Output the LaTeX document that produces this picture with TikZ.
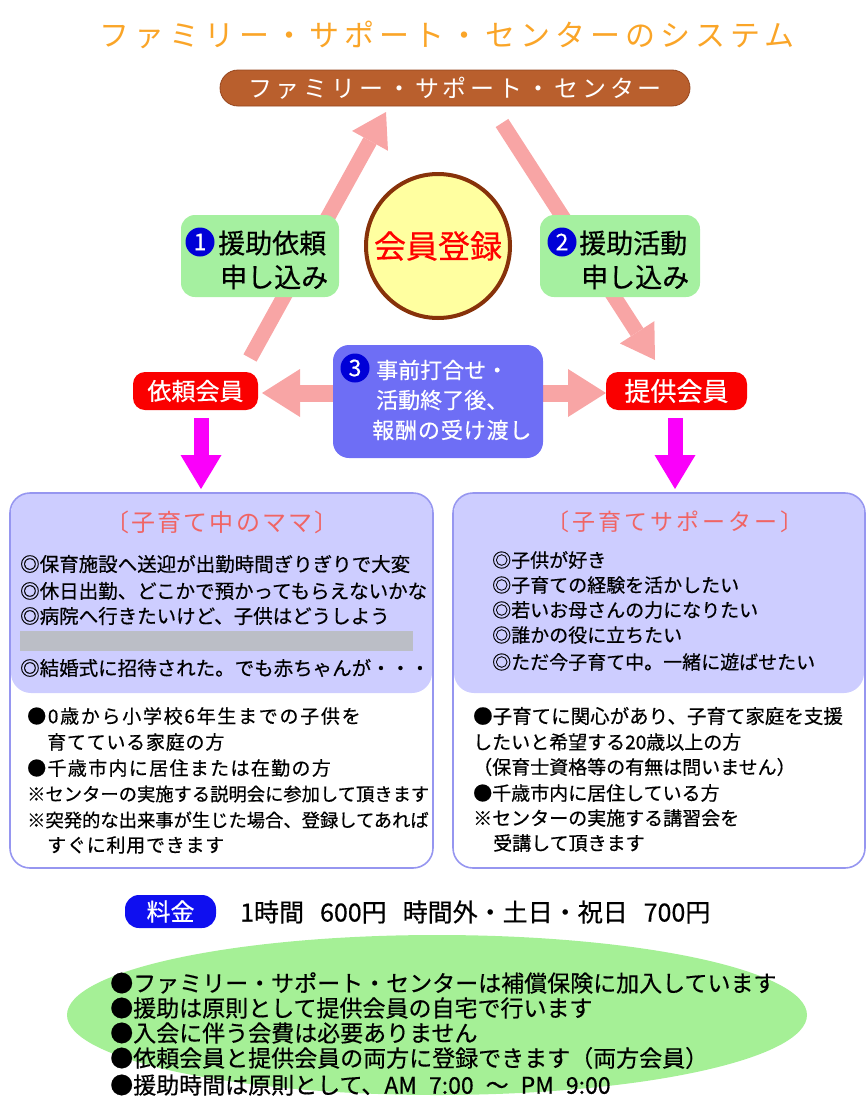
\documentclass[tikz,border=0pt]{standalone}
\usepackage{fontspec}
\setmainfont{Noto Sans CJK JP}[FakeBold=0.5]
\newfontfamily\thinf{Noto Sans CJK JP}
\usetikzlibrary{arrows.meta,shapes.geometric}
\definecolor{titleor}{RGB}{250,165,40}
\definecolor{brownbox}{RGB}{185,95,45}
\definecolor{browndark}{RGB}{150,70,30}
\definecolor{pinkA}{RGB}{248,165,165}
\definecolor{greenbox}{RGB}{165,240,160}
\definecolor{yellowc}{RGB}{255,255,160}
\definecolor{circbr}{RGB}{135,50,10}
\definecolor{numblue}{RGB}{0,0,215}
\definecolor{redbox}{RGB}{250,0,0}
\definecolor{bluebx}{RGB}{110,110,245}
\definecolor{magA}{RGB}{250,0,250}
\definecolor{lavfill}{RGB}{205,205,255}
\definecolor{lavline}{RGB}{150,150,240}
\definecolor{hdrred}{RGB}{240,100,100}
\definecolor{grayb}{RGB}{187,190,198}
\definecolor{feeblue}{RGB}{15,15,240}
\definecolor{ellgreen}{RGB}{165,240,150}
\newcommand\fsz[1]{\fontsize{#1}{#1}\selectfont}
\begin{document}
\begin{tikzpicture}[x=1pt,y=-1pt,
  parrow/.style={draw=pinkA,line width=15pt,-{Triangle[length=33pt,width=41pt,line width=0pt]}},
  harrow/.style={draw=pinkA,line width=17pt,-{Triangle[length=38pt,width=48pt,line width=0pt]}},
  marrow/.style={draw=magA,line width=15pt,-{Triangle[length=34pt,width=41pt,line width=0pt]}},
  rbox/.style={rounded corners=#1,inner sep=0pt,align=center},
  numc/.style={circle,fill=numblue,text=white,inner sep=0pt,minimum size=29pt,font=\fsz{23}},
  txt/.style={anchor=west,inner sep=0pt},
  bigbox/.style={draw=lavline,line width=1.6pt,rounded corners=20pt}]
\useasboundingbox (0,0) rectangle (867,1100);
% title
\node[inner sep=0pt,text=titleor] (title) at (447,35) {\thinf\fsz{30}\addfontfeatures{LetterSpace=17}ファミリー・サポート・センターのシステム};
% center box
\node[rbox=18pt,fill=brownbox,draw=browndark,line width=0.8pt,minimum width=470pt,minimum height=36pt,text=white] (cbox) at (455,88) {\thinf\fsz{24}\addfontfeatures{LetterSpace=16}ファミリー・サポート・センター};
% arrow coordinates
\coordinate (a1s) at (250,358); \coordinate (a1e) at (386,112);
\coordinate (a2s) at (502,123); \coordinate (a2e) at (655,360);
\coordinate (a3s) at (345,393); \coordinate (a3e) at (262,393);
\coordinate (a4s) at (530,393); \coordinate (a4e) at (606,393);
\coordinate (m1s) at (201,418); \coordinate (m1e) at (201,489);
\coordinate (m2s) at (675,418); \coordinate (m2e) at (675,489);
\draw[parrow] (a1s) -- (a1e);
\draw[parrow] (a2s) -- (a2e);
\draw[harrow] (a3s) -- (a3e);
\draw[harrow] (a4s) -- (a4e);
% green boxes
\node[rbox=14pt,fill=greenbox,minimum width=158pt,minimum height=82pt] (g1) at (260,256) {};
\node[rbox=14pt,fill=greenbox,minimum width=160pt,minimum height=82pt] (g2) at (620,256) {};
\node[numc] (n1) at (200,242) {1};
\node[numc] (n2) at (562,242) {2};
\node[txt] (g1a) at (218,243) {\fsz{27}援助依頼};
\node[txt] (g1b) at (220,277) {\fsz{27}申し込み};
\node[txt] (g2a) at (579,243) {\fsz{27}援助活動};
\node[txt] (g2b) at (581,277) {\fsz{27}申し込み};
% registration circle
\node[circle,fill=yellowc,draw=circbr,line width=4pt,minimum size=144pt,inner sep=0pt,text=red] (reg) at (438,246) {\fsz{32}会員登録};
% blue box
\node[rbox=16pt,fill=bluebx,minimum width=210pt,minimum height=113pt] (bbox) at (438,401.5) {};
\node[numc] (n3) at (355,368) {3};
\node[txt,text=white] (b1) at (376,370) {\fsz{22}事前打合せ・};
\node[txt,text=white] (b2) at (376,400) {\fsz{22}活動終了後、};
\node[txt,text=white] (b3) at (372,430) {\fsz{22}\addfontfeatures{LetterSpace=4}報酬の受け渡し};
% red boxes
\node[rbox=12pt,fill=redbox,minimum width=125pt,minimum height=38pt,text=white] (irai) at (195.5,391) {\fsz{24}依頼会員};
\node[rbox=12pt,fill=redbox,minimum width=141pt,minimum height=38pt,text=white] (teikyo) at (676.5,391) {\fsz{26}提供会員};
\draw[marrow] (m1s) -- (m1e);
\draw[marrow] (m2s) -- (m2e);
% left big box
\fill[lavfill,rounded corners=20pt] (11,493) rectangle (432,693);
\draw[bigbox] (10,493) rectangle (433,868);
\node[inner sep=0pt,text=hdrred] (lh) at (222,522) {\thinf\fsz{24}\addfontfeatures{LetterSpace=9}〔子育て中のママ〕};
\node[txt] (l1) at (20,564) {\fsz{19.5}◎保育施設へ送迎が出勤時間ぎりぎりで大変};
\node[txt] (l2) at (20,591) {\fsz{19.5}◎休日出勤、どこかで預かってもらえないかな};
\node[txt] (l3) at (20,616) {\fsz{19.5}◎病院へ行きたいけど、子供はどうしよう};
\fill[grayb] (20,631) rectangle (413,651);
\node[txt] (l4) at (20,668) {\fsz{19.5}◎結婚式に招待された。でも赤ちゃんが・・・};
\node[txt] (l5) at (27,716) {\fsz{19}\addfontfeatures{LetterSpace=9}●0歳から小学校6年生までの子供を};
\node[txt] (l6) at (47,742) {\fsz{19}\addfontfeatures{LetterSpace=4}育てている家庭の方};
\node[txt] (l7) at (27,768) {\fsz{19}\addfontfeatures{LetterSpace=7}●千歳市内に居住または在勤の方};
\node[txt] (l8) at (27,794) {\fsz{18.3}※センターの実施する説明会に参加して頂きます};
\node[txt] (l9) at (27,820) {\fsz{18.3}※突発的な出来事が生じた場合、登録してあれば};
\node[txt] (l10) at (47,845) {\fsz{19}\addfontfeatures{LetterSpace=4}すぐに利用できます};
% right big box
\fill[lavfill,rounded corners=20pt] (454,493) rectangle (864,693);
\draw[bigbox] (453,493) rectangle (865,868);
\node[inner sep=0pt,text=hdrred] (rh) at (675,522) {\thinf\fsz{23}\addfontfeatures{LetterSpace=13}〔子育てサポーター〕};
\node[txt] (r1) at (492,560) {\fsz{19}◎子供が好き};
\node[txt] (r2) at (492,585) {\fsz{19}◎子育ての経験を活かしたい};
\node[txt] (r3) at (492,610) {\fsz{19}◎若いお母さんの力になりたい};
\node[txt] (r4) at (492,635) {\fsz{19}◎誰かの役に立ちたい};
\node[txt] (r5) at (492,662) {\fsz{19}◎ただ今子育て中。一緒に遊ばせたい};
\node[txt] (r6) at (473,716) {\fsz{19.5}●子育てに関心があり、子育て家庭を支援};
\node[txt] (r7) at (473,742) {\fsz{19}したいと希望する20歳以上の方};
\node[txt] (r8) at (473,767) {\fsz{19}（保育士資格等の有無は問いません）};
\node[txt] (r9) at (473,793) {\fsz{19}●千歳市内に居住している方};
\node[txt] (r10) at (473,818) {\fsz{19}※センターの実施する講習会を};
\node[txt] (r11) at (493,843) {\fsz{19}受講して頂きます};
% fee
\node[rbox=14pt,fill=feeblue,minimum width=91pt,minimum height=33pt,text=white] (fee) at (170.5,911.5) {\fsz{24}料金};
\node[txt] (feet) at (240,912) {\fsz{25}1時間\hspace{16pt}600円\hspace{16pt}時間外・土日・祝日\hspace{16pt}700円};
% ellipse
\node[ellipse,fill=ellgreen,minimum width=740pt,minimum height=160pt,inner sep=0pt] (ell) at (437,1015) {};
\node[txt] (e1) at (110,983) {\fsz{23}●ファミリー・サポート・センターは補償保険に加入しています};
\node[txt] (e2) at (110,1008) {\fsz{23}●援助は原則として提供会員の自宅で行います};
\node[txt] (e3) at (110,1033) {\fsz{23}●入会に伴う会費は必要ありません};
\node[txt] (e4) at (110,1058) {\fsz{23}●依頼会員と提供会員の両方に登録できます（両方会員）};
\node[txt] (e5) at (110,1085) {\fsz{23}●援助時間は原則として、AM\hspace{12pt}7:00\hspace{12pt}～\hspace{12pt}PM\hspace{12pt}9:00};
\end{tikzpicture}
\end{document}
